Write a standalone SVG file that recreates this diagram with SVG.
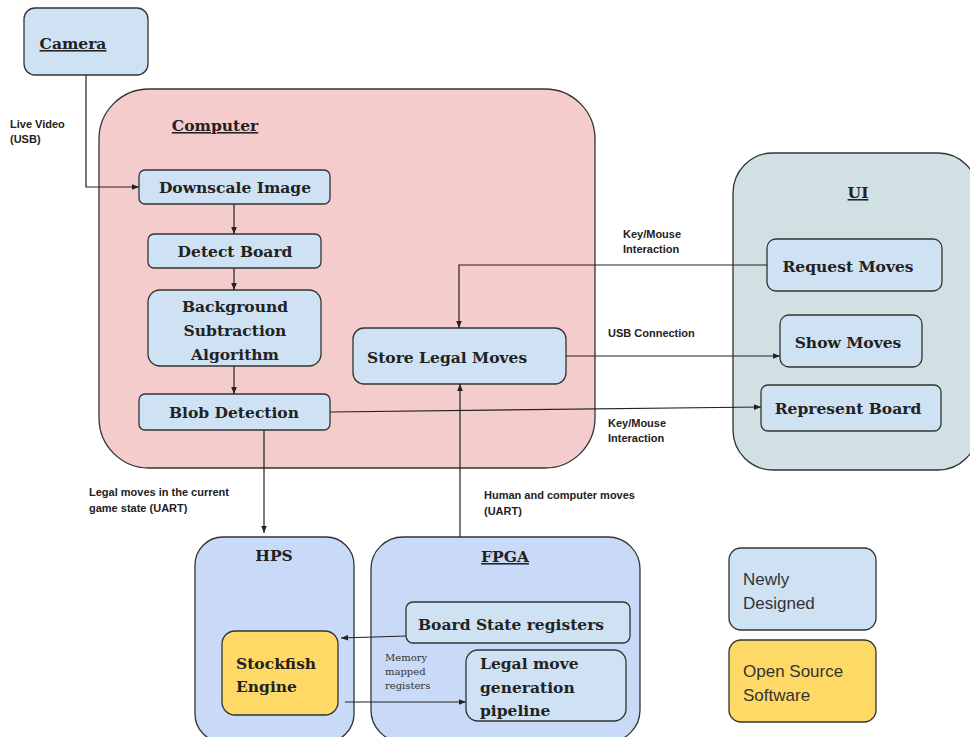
<svg xmlns="http://www.w3.org/2000/svg" width="970" height="737" viewBox="0 0 970 737">
<style>
.node{fill:#cfe2f3;stroke:#333;stroke-width:1.3}
.yel{fill:#ffd966;stroke:#333;stroke-width:1.3}
.t{font-family:"DejaVu Serif","Liberation Serif",serif;font-size:15.5px;font-weight:bold;fill:#222;text-anchor:middle}
.s{text-anchor:start}
.u{text-decoration:underline}
.lbl{font-family:"Liberation Sans",Arial,sans-serif;font-size:11px;font-weight:bold;fill:#222}
.leg{font-family:"Liberation Sans",Arial,sans-serif;font-size:17px;fill:#333}
.c{fill:none;stroke:#222;stroke-width:1.2}
</style>
<defs>
<marker id="ah" viewBox="0 0 10 10" refX="10" refY="5" markerWidth="7" markerHeight="7" markerUnits="userSpaceOnUse" orient="auto">
<path d="M0,1 L10,5 L0,9 z" fill="#222"/>
</marker>
</defs>
<rect width="970" height="737" fill="#fff"/>

<g id="computer">
<rect x="99" y="89" width="496" height="379" rx="50" fill="#f4cccc" stroke="#333" stroke-width="1.3"/>
<text class="t u" x="215" y="131">Computer</text>
</g>
<g id="ui">
<rect x="733" y="153" width="245" height="317" rx="40" fill="#d0e0e3" stroke="#333" stroke-width="1.3"/>
<text class="t u" x="858" y="198">UI</text>
</g>
<g id="hps">
<rect x="195" y="537" width="159" height="205" rx="28" fill="#c9daf8" stroke="#333" stroke-width="1.3"/>
<text class="t" x="274" y="561">HPS</text>
</g>
<g id="fpga">
<rect x="371" y="537" width="269" height="205" rx="32" fill="#c9daf8" stroke="#333" stroke-width="1.3"/>
<text class="t u" x="505" y="562">FPGA</text>
</g>

<g id="camera">
<rect class="node" x="24" y="8" width="124" height="67" rx="11"/>
<text class="t u" x="73" y="49">Camera</text>
</g>
<g id="downscale">
<rect class="node" x="139" y="170" width="191" height="34" rx="6"/>
<text class="t" x="235" y="193">Downscale Image</text>
</g>
<g id="detect">
<rect class="node" x="148" y="234" width="173" height="34" rx="6"/>
<text class="t" x="235" y="257">Detect Board</text>
</g>
<g id="bgsub">
<rect class="node" x="148" y="290" width="173" height="76" rx="12"/>
<text class="t" x="235" y="312">Background</text>
<text class="t" x="235" y="336">Subtraction</text>
<text class="t" x="235" y="360">Algorithm</text>
</g>
<g id="blob">
<rect class="node" x="139" y="394" width="191" height="36" rx="6"/>
<text class="t" x="234" y="418">Blob Detection</text>
</g>
<g id="store">
<rect class="node" x="353" y="328" width="213" height="56" rx="11"/>
<text class="t s" x="367" y="363">Store Legal Moves</text>
</g>
<g id="request">
<rect class="node" x="767" y="239" width="175" height="52" rx="9"/>
<text class="t" x="848" y="272">Request Moves</text>
</g>
<g id="show">
<rect class="node" x="780" y="315" width="142" height="52" rx="9"/>
<text class="t" x="848" y="348">Show Moves</text>
</g>
<g id="represent">
<rect class="node" x="761" y="385" width="180" height="46" rx="7"/>
<text class="t" x="848" y="414">Represent Board</text>
</g>
<g id="stockfish">
<rect class="yel" x="222" y="631" width="116" height="84" rx="13"/>
<text class="t s" x="236" y="669">Stockfish</text>
<text class="t s" x="236" y="692">Engine</text>
</g>
<g id="boardstate">
<rect class="node" x="406" y="602" width="224" height="41" rx="7"/>
<text class="t s" x="418" y="630">Board State registers</text>
</g>
<g id="legalmove">
<rect class="node" x="466" y="650" width="160" height="71" rx="12"/>
<text class="t s" x="480" y="669">Legal move</text>
<text class="t s" x="480" y="693">generation</text>
<text class="t s" x="480" y="716">pipeline</text>
</g>
<g id="legend-new">
<rect class="node" x="729" y="548" width="147" height="82" rx="12"/>
<text class="leg" x="743" y="585">Newly</text>
<text class="leg" x="743" y="609">Designed</text>
</g>
<g id="legend-os">
<rect class="yel" x="729" y="640" width="147" height="82" rx="12"/>
<text class="leg" x="743" y="677">Open Source</text>
<text class="leg" x="743" y="701">Software</text>
</g>

<g id="connectors">
<path class="c" d="M86,75 V187 H139" marker-end="url(#ah)"/>
<path class="c" d="M234,204 V234" marker-end="url(#ah)"/>
<path class="c" d="M234,268 V290" marker-end="url(#ah)"/>
<path class="c" d="M234,366 V394" marker-end="url(#ah)"/>
<path class="c" d="M264,430 V533" marker-end="url(#ah)"/>
<path class="c" d="M330,412 L761,407" marker-end="url(#ah)"/>
<path class="c" d="M767,265 H459 V328" marker-end="url(#ah)"/>
<path class="c" d="M566,356 H780" marker-end="url(#ah)"/>
<path class="c" d="M460,537 V384" marker-end="url(#ah)"/>
<path class="c" d="M406,636 L341,638" marker-end="url(#ah)"/>
<path class="c" d="M345,702 H466" marker-end="url(#ah)"/>
</g>

<g id="labels">
<text class="lbl" x="10" y="128">Live Video</text>
<text class="lbl" x="10" y="143">(USB)</text>
<text class="lbl" x="623" y="238">Key/Mouse</text>
<text class="lbl" x="623" y="253">Interaction</text>
<text class="lbl" x="608" y="337">USB Connection</text>
<text class="lbl" x="608" y="427">Key/Mouse</text>
<text class="lbl" x="608" y="442">Interaction</text>
<text class="lbl" x="89" y="496">Legal moves in the current</text>
<text class="lbl" x="89" y="512">game state (UART)</text>
<text class="lbl" x="484" y="499">Human and computer moves</text>
<text class="lbl" x="484" y="515">(UART)</text>
<text x="385" y="661" font-family="DejaVu Serif,serif" font-size="10" fill="#333">Memory</text>
<text x="385" y="675" font-family="DejaVu Serif,serif" font-size="10" fill="#333">mapped</text>
<text x="385" y="689" font-family="DejaVu Serif,serif" font-size="10" fill="#333">registers</text>
</g>
</svg>
